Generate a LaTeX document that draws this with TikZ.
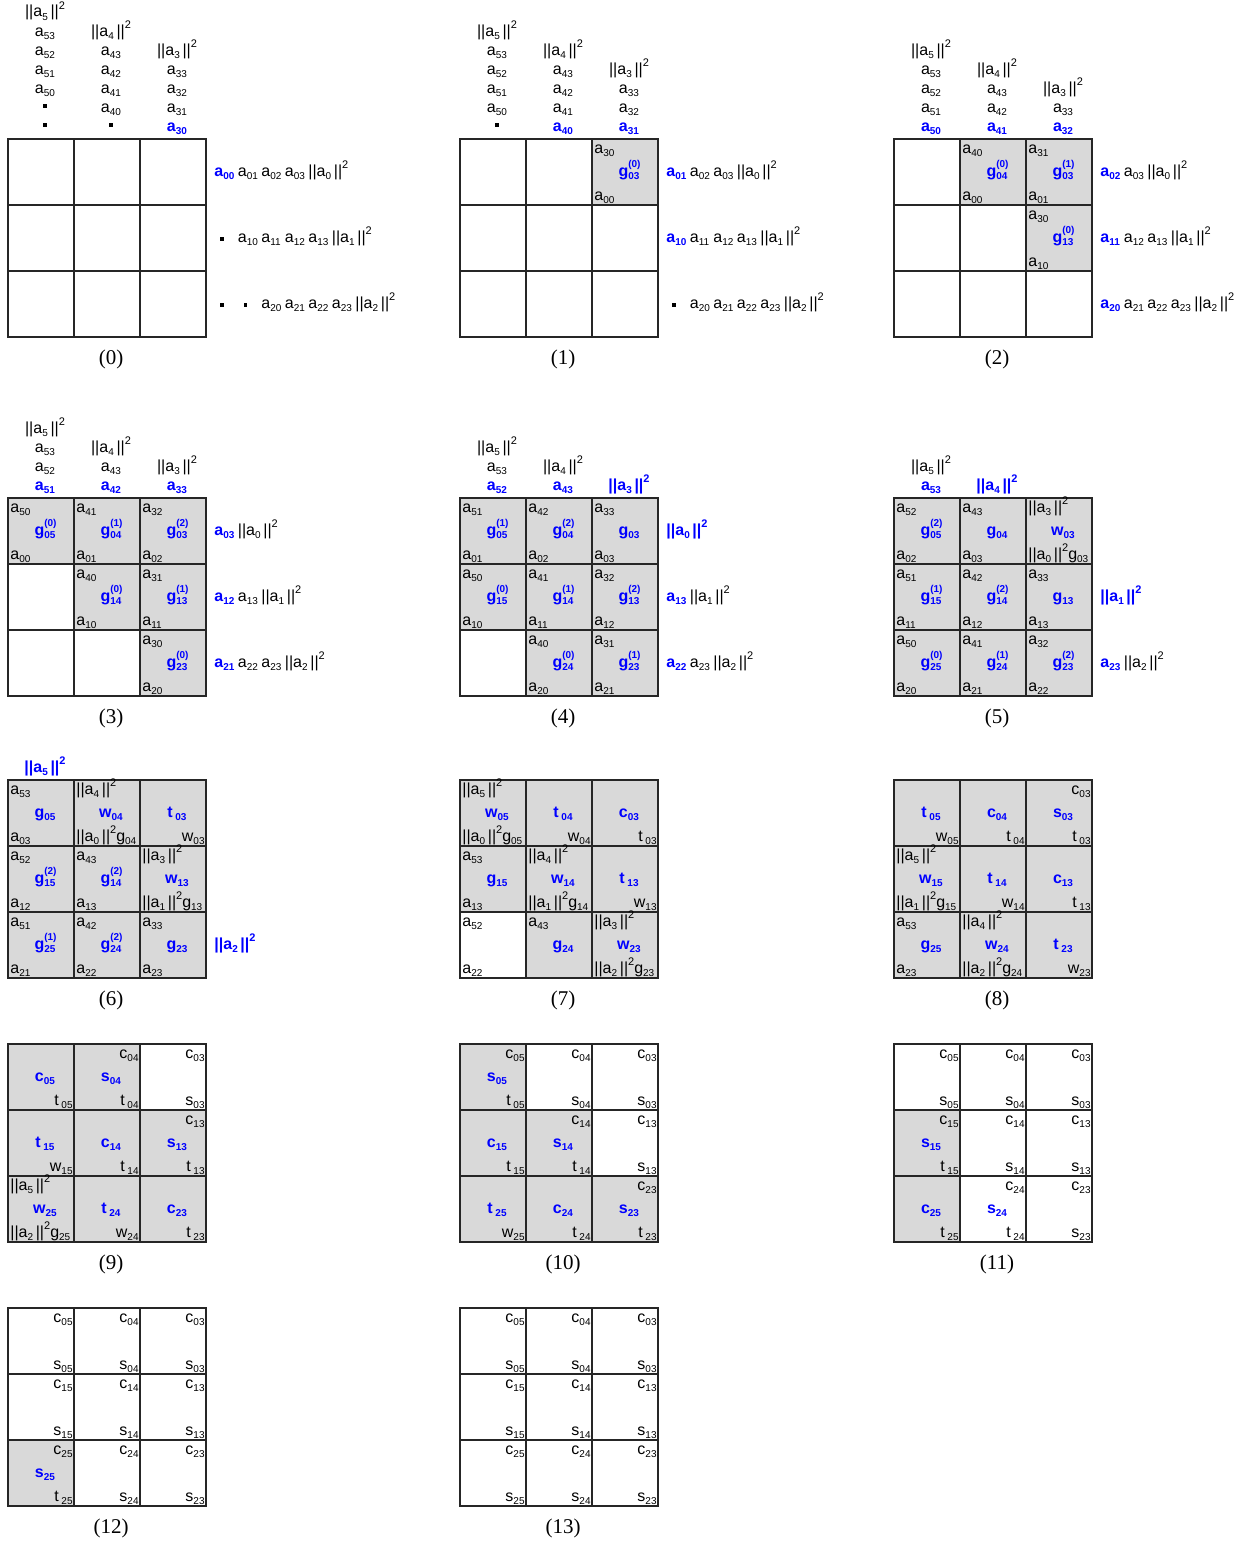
\documentclass[tikz,border=0pt]{standalone}
\usepackage{fontspec}
\setmainfont{Liberation Sans}
\newfontfamily\capfont{Liberation Serif}
\usepackage{xcolor}
\usepackage{tikz}
\definecolor{SysBlue}{HTML}{0000FF}
\definecolor{SysGray}{HTML}{D9D9D9}
\definecolor{SysLine}{HTML}{262626}

% text pieces
\newcommand{\sbs}[2]{#1\raisebox{-.45ex}{\fontsize{5}{5}\selectfont#2}}
\newcommand{\av}[1]{\sbs{a}{#1}}
\newcommand{\nrm}[1]{||\sbs{a}{#1}\,||\raisebox{.9ex}{\fontsize{5.5}{5.5}\selectfont2}}
\newcommand{\gsup}[2]{g\rlap{\raisebox{1ex}{\fontsize{5}{5}\selectfont(#2)}}\raisebox{-.45ex}{\fontsize{5}{5}\selectfont#1}}
% placing, panel coordinates (px, y down)
\newcommand{\gcell}[2]{\fill[SysGray] ({66*#2},{66*#1}) rectangle +(66,66);}
\newcommand{\gridlines}{\foreach \k in {0,66,132,198}{\draw[gline] (\k,0) -- (\k,198); \draw[gline] (0,\k) -- (198,\k);}}
\newcommand{\putTL}[3]{\node[lab,anchor=base west] (\pn tl#1#2) at ({66*#2+2},{66*#1+14}) {#3};}
\newcommand{\putBL}[3]{\node[lab,anchor=base west] (\pn bl#1#2) at ({66*#2+2},{66*#1+61}) {#3};}
\newcommand{\putTR}[3]{\node[lab,anchor=base east] (\pn tr#1#2) at ({66*#2+65},{66*#1+14}) {#3};}
\newcommand{\putBR}[3]{\node[lab,anchor=base east] (\pn br#1#2) at ({66*#2+65},{66*#1+61}) {#3};}
\newcommand{\putC}[3]{\node[ctr] (\pn c#1#2) at ({66*#2+37},{66*#1+37}) {#3};}
\newcommand{\putT}[4][lab]{\node[#1,anchor=base] (\pn t#2#3) at ({66*#2+37},{-8-19*#3}) {#4};}
\newcommand{\putR}[4][lab]{\node[#1,anchor=base west] (\pn r#2#3) at ({206+23.5*#3},{66*#2+37}) {#4};}
\newcommand{\dotT}[2]{\node[sqdot] (\pn t#1#2) at ({66*#1+37},{-14-19*#2}) {};}
\newcommand{\dotR}[2]{\node[sqdot] (\pn r#1#2) at ({214+23.5*#2},{66*#1+34}) {};}
\newcommand{\csdone}[3]{\putTR{#1}{#2}{\sbs{c}{#3}}\putBR{#1}{#2}{\sbs{s}{#3}}}
\newcommand{\putCap}[1]{\node[captext] (\pn cap) at (103,220) {(#1)};}

\begin{document}
\begin{tikzpicture}[x=0.5pt,y=-0.5pt,
  lab/.style={inner sep=0pt,font=\fontsize{8}{9.5}\selectfont},
  hot/.style={lab,text=SysBlue,font=\bfseries\fontsize{8}{9.5}\selectfont},
  ctr/.style={hot,anchor=base},
  sqdot/.style={fill=black,inner sep=0pt,minimum size=1.6pt},
  gline/.style={line width=0.6pt,SysLine,line cap=rect},
  captext/.style={inner sep=0pt,font=\capfont\fontsize{10.5}{12}\selectfont}]
\path[use as bounding box] (0,0) rectangle (1247,1542);

% (0)
\begin{scope}[shift={(8,139)}]
\def\pn{p0}
\gridlines
\dotT{0}{0} \dotT{0}{1}
\putT{0}{2}{\av{50}} \putT{0}{3}{\av{51}} \putT{0}{4}{\av{52}} \putT{0}{5}{\av{53}} \putT{0}{6}{\nrm{5}}
\dotT{1}{0}
\putT{1}{1}{\av{40}} \putT{1}{2}{\av{41}} \putT{1}{3}{\av{42}} \putT{1}{4}{\av{43}} \putT{1}{5}{\nrm{4}}
\putT[hot]{2}{0}{\av{30}} \putT{2}{1}{\av{31}} \putT{2}{2}{\av{32}} \putT{2}{3}{\av{33}} \putT{2}{4}{\nrm{3}}
\putR[hot]{0}{0}{\av{00}} \putR{0}{1}{\av{01}} \putR{0}{2}{\av{02}} \putR{0}{3}{\av{03}} \putR{0}{4}{\nrm{0}}
\dotR{1}{0}
\putR{1}{1}{\av{10}} \putR{1}{2}{\av{11}} \putR{1}{3}{\av{12}} \putR{1}{4}{\av{13}} \putR{1}{5}{\nrm{1}}
\dotR{2}{0} \dotR{2}{1}
\putR{2}{2}{\av{20}} \putR{2}{3}{\av{21}} \putR{2}{4}{\av{22}} \putR{2}{5}{\av{23}} \putR{2}{6}{\nrm{2}}
\putCap{0}
\end{scope}

% (1)
\begin{scope}[shift={(460,139)}]
\def\pn{p1}
\gcell{0}{2}
\gridlines
\dotT{0}{0}
\putT{0}{1}{\av{50}} \putT{0}{2}{\av{51}} \putT{0}{3}{\av{52}} \putT{0}{4}{\av{53}} \putT{0}{5}{\nrm{5}}
\putT[hot]{1}{0}{\av{40}} \putT{1}{1}{\av{41}} \putT{1}{2}{\av{42}} \putT{1}{3}{\av{43}} \putT{1}{4}{\nrm{4}}
\putT[hot]{2}{0}{\av{31}} \putT{2}{1}{\av{32}} \putT{2}{2}{\av{33}} \putT{2}{3}{\nrm{3}}
\putTL{0}{2}{\av{30}} \putC{0}{2}{\gsup{03}{0}} \putBL{0}{2}{\av{00}}
\putR[hot]{0}{0}{\av{01}} \putR{0}{1}{\av{02}} \putR{0}{2}{\av{03}} \putR{0}{3}{\nrm{0}}
\putR[hot]{1}{0}{\av{10}} \putR{1}{1}{\av{11}} \putR{1}{2}{\av{12}} \putR{1}{3}{\av{13}} \putR{1}{4}{\nrm{1}}
\dotR{2}{0}
\putR{2}{1}{\av{20}} \putR{2}{2}{\av{21}} \putR{2}{3}{\av{22}} \putR{2}{4}{\av{23}} \putR{2}{5}{\nrm{2}}
\putCap{1}
\end{scope}

% (2)
\begin{scope}[shift={(894,139)}]
\def\pn{p2}
\gcell{0}{1} \gcell{0}{2} \gcell{1}{2}
\gridlines
\putT[hot]{0}{0}{\av{50}} \putT{0}{1}{\av{51}} \putT{0}{2}{\av{52}} \putT{0}{3}{\av{53}} \putT{0}{4}{\nrm{5}}
\putT[hot]{1}{0}{\av{41}} \putT{1}{1}{\av{42}} \putT{1}{2}{\av{43}} \putT{1}{3}{\nrm{4}}
\putT[hot]{2}{0}{\av{32}} \putT{2}{1}{\av{33}} \putT{2}{2}{\nrm{3}}
\putTL{0}{1}{\av{40}} \putC{0}{1}{\gsup{04}{0}} \putBL{0}{1}{\av{00}}
\putTL{0}{2}{\av{31}} \putC{0}{2}{\gsup{03}{1}} \putBL{0}{2}{\av{01}}
\putTL{1}{2}{\av{30}} \putC{1}{2}{\gsup{13}{0}} \putBL{1}{2}{\av{10}}
\putR[hot]{0}{0}{\av{02}} \putR{0}{1}{\av{03}} \putR{0}{2}{\nrm{0}}
\putR[hot]{1}{0}{\av{11}} \putR{1}{1}{\av{12}} \putR{1}{2}{\av{13}} \putR{1}{3}{\nrm{1}}
\putR[hot]{2}{0}{\av{20}} \putR{2}{1}{\av{21}} \putR{2}{2}{\av{22}} \putR{2}{3}{\av{23}} \putR{2}{4}{\nrm{2}}
\putCap{2}
\end{scope}

% (3)
\begin{scope}[shift={(8,498)}]
\def\pn{p3}
\gcell{0}{0} \gcell{0}{1} \gcell{0}{2} \gcell{1}{1} \gcell{1}{2} \gcell{2}{2}
\gridlines
\putT[hot]{0}{0}{\av{51}} \putT{0}{1}{\av{52}} \putT{0}{2}{\av{53}} \putT{0}{3}{\nrm{5}}
\putT[hot]{1}{0}{\av{42}} \putT{1}{1}{\av{43}} \putT{1}{2}{\nrm{4}}
\putT[hot]{2}{0}{\av{33}} \putT{2}{1}{\nrm{3}}
\putTL{0}{0}{\av{50}} \putC{0}{0}{\gsup{05}{0}} \putBL{0}{0}{\av{00}}
\putTL{0}{1}{\av{41}} \putC{0}{1}{\gsup{04}{1}} \putBL{0}{1}{\av{01}}
\putTL{0}{2}{\av{32}} \putC{0}{2}{\gsup{03}{2}} \putBL{0}{2}{\av{02}}
\putTL{1}{1}{\av{40}} \putC{1}{1}{\gsup{14}{0}} \putBL{1}{1}{\av{10}}
\putTL{1}{2}{\av{31}} \putC{1}{2}{\gsup{13}{1}} \putBL{1}{2}{\av{11}}
\putTL{2}{2}{\av{30}} \putC{2}{2}{\gsup{23}{0}} \putBL{2}{2}{\av{20}}
\putR[hot]{0}{0}{\av{03}} \putR{0}{1}{\nrm{0}}
\putR[hot]{1}{0}{\av{12}} \putR{1}{1}{\av{13}} \putR{1}{2}{\nrm{1}}
\putR[hot]{2}{0}{\av{21}} \putR{2}{1}{\av{22}} \putR{2}{2}{\av{23}} \putR{2}{3}{\nrm{2}}
\putCap{3}
\end{scope}

% (4)
\begin{scope}[shift={(460,498)}]
\def\pn{p4}
\gcell{0}{0} \gcell{0}{1} \gcell{0}{2} \gcell{1}{0} \gcell{1}{1} \gcell{1}{2} \gcell{2}{1} \gcell{2}{2}
\gridlines
\putT[hot]{0}{0}{\av{52}} \putT{0}{1}{\av{53}} \putT{0}{2}{\nrm{5}}
\putT[hot]{1}{0}{\av{43}} \putT{1}{1}{\nrm{4}}
\putT[hot]{2}{0}{\nrm{3}}
\putTL{0}{0}{\av{51}} \putC{0}{0}{\gsup{05}{1}} \putBL{0}{0}{\av{01}}
\putTL{0}{1}{\av{42}} \putC{0}{1}{\gsup{04}{2}} \putBL{0}{1}{\av{02}}
\putTL{0}{2}{\av{33}} \putC{0}{2}{\sbs{g}{03}} \putBL{0}{2}{\av{03}}
\putTL{1}{0}{\av{50}} \putC{1}{0}{\gsup{15}{0}} \putBL{1}{0}{\av{10}}
\putTL{1}{1}{\av{41}} \putC{1}{1}{\gsup{14}{1}} \putBL{1}{1}{\av{11}}
\putTL{1}{2}{\av{32}} \putC{1}{2}{\gsup{13}{2}} \putBL{1}{2}{\av{12}}
\putTL{2}{1}{\av{40}} \putC{2}{1}{\gsup{24}{0}} \putBL{2}{1}{\av{20}}
\putTL{2}{2}{\av{31}} \putC{2}{2}{\gsup{23}{1}} \putBL{2}{2}{\av{21}}
\putR[hot]{0}{0}{\nrm{0}}
\putR[hot]{1}{0}{\av{13}} \putR{1}{1}{\nrm{1}}
\putR[hot]{2}{0}{\av{22}} \putR{2}{1}{\av{23}} \putR{2}{2}{\nrm{2}}
\putCap{4}
\end{scope}

% (5)
\begin{scope}[shift={(894,498)}]
\def\pn{p5}
\fill[SysGray] (0,0) rectangle (198,198);
\gridlines
\putT[hot]{0}{0}{\av{53}} \putT{0}{1}{\nrm{5}}
\putT[hot]{1}{0}{\nrm{4}}
\putTL{0}{0}{\av{52}} \putC{0}{0}{\gsup{05}{2}} \putBL{0}{0}{\av{02}}
\putTL{0}{1}{\av{43}} \putC{0}{1}{\sbs{g}{04}} \putBL{0}{1}{\av{03}}
\putTL{0}{2}{\nrm{3}} \putC{0}{2}{\sbs{w}{03}} \putBL{0}{2}{\nrm{0}\sbs{g}{03}}
\putTL{1}{0}{\av{51}} \putC{1}{0}{\gsup{15}{1}} \putBL{1}{0}{\av{11}}
\putTL{1}{1}{\av{42}} \putC{1}{1}{\gsup{14}{2}} \putBL{1}{1}{\av{12}}
\putTL{1}{2}{\av{33}} \putC{1}{2}{\sbs{g}{13}} \putBL{1}{2}{\av{13}}
\putTL{2}{0}{\av{50}} \putC{2}{0}{\gsup{25}{0}} \putBL{2}{0}{\av{20}}
\putTL{2}{1}{\av{41}} \putC{2}{1}{\gsup{24}{1}} \putBL{2}{1}{\av{21}}
\putTL{2}{2}{\av{32}} \putC{2}{2}{\gsup{23}{2}} \putBL{2}{2}{\av{22}}
\putR[hot]{1}{0}{\nrm{1}}
\putR[hot]{2}{0}{\av{23}} \putR{2}{1}{\nrm{2}}
\putCap{5}
\end{scope}

% (6)
\begin{scope}[shift={(8,780)}]
\def\pn{p6}
\fill[SysGray] (0,0) rectangle (198,198);
\gridlines
\putT[hot]{0}{0}{\nrm{5}}
\putTL{0}{0}{\av{53}} \putC{0}{0}{\sbs{g}{05}} \putBL{0}{0}{\av{03}}
\putTL{0}{1}{\nrm{4}} \putC{0}{1}{\sbs{w}{04}} \putBL{0}{1}{\nrm{0}\sbs{g}{04}}
\putC{0}{2}{\sbs{t\,}{03}} \putBR{0}{2}{\sbs{w}{03}}
\putTL{1}{0}{\av{52}} \putC{1}{0}{\gsup{15}{2}} \putBL{1}{0}{\av{12}}
\putTL{1}{1}{\av{43}} \putC{1}{1}{\gsup{14}{2}} \putBL{1}{1}{\av{13}}
\putTL{1}{2}{\nrm{3}} \putC{1}{2}{\sbs{w}{13}} \putBL{1}{2}{\nrm{1}\sbs{g}{13}}
\putTL{2}{0}{\av{51}} \putC{2}{0}{\gsup{25}{1}} \putBL{2}{0}{\av{21}}
\putTL{2}{1}{\av{42}} \putC{2}{1}{\gsup{24}{2}} \putBL{2}{1}{\av{22}}
\putTL{2}{2}{\av{33}} \putC{2}{2}{\sbs{g}{23}} \putBL{2}{2}{\av{23}}
\putR[hot]{2}{0}{\nrm{2}}
\putCap{6}
\end{scope}

% (7)
\begin{scope}[shift={(460,780)}]
\def\pn{p7}
\fill[SysGray] (0,0) rectangle (198,198);
\fill[white] (0,132) rectangle (66,198);
\gridlines
\putTL{0}{0}{\nrm{5}} \putC{0}{0}{\sbs{w}{05}} \putBL{0}{0}{\nrm{0}\sbs{g}{05}}
\putC{0}{1}{\sbs{t\,}{04}} \putBR{0}{1}{\sbs{w}{04}}
\putC{0}{2}{\sbs{c}{03}} \putBR{0}{2}{\sbs{t\,}{03}}
\putTL{1}{0}{\av{53}} \putC{1}{0}{\sbs{g}{15}} \putBL{1}{0}{\av{13}}
\putTL{1}{1}{\nrm{4}} \putC{1}{1}{\sbs{w}{14}} \putBL{1}{1}{\nrm{1}\sbs{g}{14}}
\putC{1}{2}{\sbs{t\,}{13}} \putBR{1}{2}{\sbs{w}{13}}
\putTL{2}{0}{\av{52}} \putBL{2}{0}{\av{22}}
\putTL{2}{1}{\av{43}} \putC{2}{1}{\sbs{g}{24}}
\putTL{2}{2}{\nrm{3}} \putC{2}{2}{\sbs{w}{23}} \putBL{2}{2}{\nrm{2}\sbs{g}{23}}
\putCap{7}
\end{scope}

% (8)
\begin{scope}[shift={(894,780)}]
\def\pn{p8}
\fill[SysGray] (0,0) rectangle (198,198);
\gridlines
\putC{0}{0}{\sbs{t\,}{05}} \putBR{0}{0}{\sbs{w}{05}}
\putC{0}{1}{\sbs{c}{04}} \putBR{0}{1}{\sbs{t\,}{04}}
\putTR{0}{2}{\sbs{c}{03}} \putC{0}{2}{\sbs{s}{03}} \putBR{0}{2}{\sbs{t\,}{03}}
\putTL{1}{0}{\nrm{5}} \putC{1}{0}{\sbs{w}{15}} \putBL{1}{0}{\nrm{1}\sbs{g}{15}}
\putC{1}{1}{\sbs{t\,}{14}} \putBR{1}{1}{\sbs{w}{14}}
\putC{1}{2}{\sbs{c}{13}} \putBR{1}{2}{\sbs{t\,}{13}}
\putTL{2}{0}{\av{53}} \putC{2}{0}{\sbs{g}{25}} \putBL{2}{0}{\av{23}}
\putTL{2}{1}{\nrm{4}} \putC{2}{1}{\sbs{w}{24}} \putBL{2}{1}{\nrm{2}\sbs{g}{24}}
\putC{2}{2}{\sbs{t\,}{23}} \putBR{2}{2}{\sbs{w}{23}}
\putCap{8}
\end{scope}

% (9)
\begin{scope}[shift={(8,1044)}]
\def\pn{p9}
\fill[SysGray] (0,0) rectangle (198,198);
\fill[white] (132,0) rectangle (198,66);
\gridlines
\putC{0}{0}{\sbs{c}{05}} \putBR{0}{0}{\sbs{t\,}{05}}
\putTR{0}{1}{\sbs{c}{04}} \putC{0}{1}{\sbs{s}{04}} \putBR{0}{1}{\sbs{t\,}{04}}
\csdone{0}{2}{03}
\putC{1}{0}{\sbs{t\,}{15}} \putBR{1}{0}{\sbs{w}{15}}
\putC{1}{1}{\sbs{c}{14}} \putBR{1}{1}{\sbs{t\,}{14}}
\putTR{1}{2}{\sbs{c}{13}} \putC{1}{2}{\sbs{s}{13}} \putBR{1}{2}{\sbs{t\,}{13}}
\putTL{2}{0}{\nrm{5}} \putC{2}{0}{\sbs{w}{25}} \putBL{2}{0}{\nrm{2}\sbs{g}{25}}
\putC{2}{1}{\sbs{t\,}{24}} \putBR{2}{1}{\sbs{w}{24}}
\putC{2}{2}{\sbs{c}{23}} \putBR{2}{2}{\sbs{t\,}{23}}
\putCap{9}
\end{scope}

% (10)
\begin{scope}[shift={(460,1044)}]
\def\pn{p10}
\gcell{0}{0} \gcell{1}{0} \gcell{1}{1} \gcell{2}{0} \gcell{2}{1} \gcell{2}{2}
\gridlines
\putTR{0}{0}{\sbs{c}{05}} \putC{0}{0}{\sbs{s}{05}} \putBR{0}{0}{\sbs{t\,}{05}}
\csdone{0}{1}{04} \csdone{0}{2}{03}
\putC{1}{0}{\sbs{c}{15}} \putBR{1}{0}{\sbs{t\,}{15}}
\putTR{1}{1}{\sbs{c}{14}} \putC{1}{1}{\sbs{s}{14}} \putBR{1}{1}{\sbs{t\,}{14}}
\csdone{1}{2}{13}
\putC{2}{0}{\sbs{t\,}{25}} \putBR{2}{0}{\sbs{w}{25}}
\putC{2}{1}{\sbs{c}{24}} \putBR{2}{1}{\sbs{t\,}{24}}
\putTR{2}{2}{\sbs{c}{23}} \putC{2}{2}{\sbs{s}{23}} \putBR{2}{2}{\sbs{t\,}{23}}
\putCap{10}
\end{scope}

% (11)
\begin{scope}[shift={(894,1044)}]
\def\pn{p11}
\gcell{1}{0} \gcell{2}{0}
\gridlines
\csdone{0}{0}{05} \csdone{0}{1}{04} \csdone{0}{2}{03}
\putTR{1}{0}{\sbs{c}{15}} \putC{1}{0}{\sbs{s}{15}} \putBR{1}{0}{\sbs{t\,}{15}}
\csdone{1}{1}{14} \csdone{1}{2}{13}
\putC{2}{0}{\sbs{c}{25}} \putBR{2}{0}{\sbs{t\,}{25}}
\putTR{2}{1}{\sbs{c}{24}} \putC{2}{1}{\sbs{s}{24}} \putBR{2}{1}{\sbs{t\,}{24}}
\csdone{2}{2}{23}
\putCap{11}
\end{scope}

% (12)
\begin{scope}[shift={(8,1308)}]
\def\pn{p12}
\gcell{2}{0}
\gridlines
\csdone{0}{0}{05} \csdone{0}{1}{04} \csdone{0}{2}{03}
\csdone{1}{0}{15} \csdone{1}{1}{14} \csdone{1}{2}{13}
\putTR{2}{0}{\sbs{c}{25}} \putC{2}{0}{\sbs{s}{25}} \putBR{2}{0}{\sbs{t\,}{25}}
\csdone{2}{1}{24} \csdone{2}{2}{23}
\putCap{12}
\end{scope}

% (13)
\begin{scope}[shift={(460,1308)}]
\def\pn{p13}
\gridlines
\csdone{0}{0}{05} \csdone{0}{1}{04} \csdone{0}{2}{03}
\csdone{1}{0}{15} \csdone{1}{1}{14} \csdone{1}{2}{13}
\csdone{2}{0}{25} \csdone{2}{1}{24} \csdone{2}{2}{23}
\putCap{13}
\end{scope}
\end{tikzpicture}
\end{document}
